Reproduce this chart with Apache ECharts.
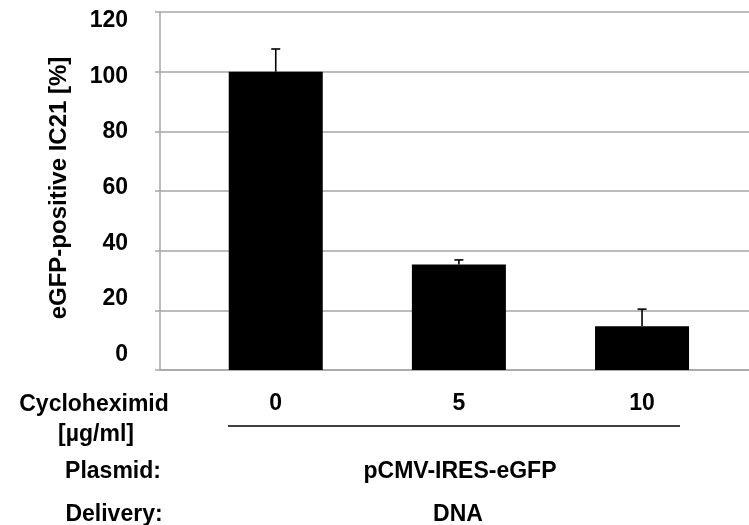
<!DOCTYPE html>
<html style="height: 100%">
<head>
<meta charset="UTF-8">
<title>eGFP IC21</title>
<script src="https://cdn.jsdelivr.net/npm/echarts@6.0.0/dist/echarts.min.js"></script>
</head>
<body style="height: 100%;margin: 0;background:#fff">
<div id="container" style="width:749px;height:525px"></div>
<script type="text/javascript">
// data
var doses = ['0', '5', '10'];
var positive = [100, 35.4, 14.7];
var errors = [7.6, 1.5, 5.7];
var yTicks = [0, 20, 40, 60, 80, 100, 120];
var rowLabels = ['Cycloheximid', '[µg/ml]', 'Plasmid:', 'Delivery:'];
var rowValues = ['pCMV-IRES-eGFP', 'DNA'];

var FONT = '"Liberation Sans", Arial, sans-serif';
var gridGray = '#a6a6a6';

var dom = document.getElementById("container");
var myChart = echarts.init(dom);

var barData = positive.map(function (v, i) { return [i, v]; });
var errData = positive.map(function (v, i) { return [i, v, errors[i]]; });

function textEl(str, x, y) {
    return {
        type: 'text',
        x: x,
        y: y,
        style: {
            text: str,
            fontFamily: FONT,
            fontSize: 23,
            fontWeight: 'bold',
            fill: '#000',
            align: 'center',
            verticalAlign: 'middle'
        }
    };
}

var labelStyle = {
    color: '#000',
    fontFamily: FONT,
    fontSize: 23,
    fontWeight: 'bold'
};

var option = {
    backgroundColor: '#fff',
    animation: false,
    grid: {
        left: 160,
        right: 0,
        top: 12,
        bottom: 155
    },
    xAxis: {
        type: 'value',
        min: -0.632,
        max: 2.584,
        splitLine: {show: false},
        axisTick: {show: false},
        axisLine: {show: true, onZero: false, lineStyle: {color: gridGray, width: 1.5}},
        axisLabel: Object.assign({
            customValues: [0, 1, 2],
            margin: 22,
            formatter: function (v) { return doses[Math.round(v)]; }
        }, labelStyle)
    },
    yAxis: [{
        type: 'value',
        min: 0,
        max: 120,
        interval: 20,
        name: 'eGFP-positive IC21 [%]',
        nameLocation: 'middle',
        nameRotate: 90,
        nameGap: 89,
        nameTextStyle: {
            color: '#000',
            fontFamily: FONT,
            fontSize: 24,
            fontWeight: 'bold',
            padding: [0, 0, 0, 6]
        },
        axisLine: {show: true, onZero: false, lineStyle: {color: gridGray, width: 1.5}},
        axisTick: {show: true, length: 5, lineStyle: {color: gridGray, width: 1.5}},
        splitLine: {lineStyle: {color: gridGray, width: 1.5}},
        axisLabel: {show: false}
    }, {
        // tick labels in the figure sit on a slightly tighter spacing than the grid lines
        type: 'value',
        position: 'left',
        min: -5.58,
        max: 123.2,
        axisLine: {show: false},
        axisTick: {show: false},
        splitLine: {show: false},
        axisLabel: Object.assign({
            customValues: yTicks,
            margin: 32,
            formatter: function (v) { return String(Math.round(v)); }
        }, labelStyle)
    }],
    series: [{
        type: 'bar',
        data: barData,
        barWidth: 94,
        itemStyle: {color: '#000'}
    }, {
        type: 'custom',
        data: errData,
        z: 3,
        renderItem: function (params, api) {
            var x = api.value(0);
            var y = api.value(1);
            var e = api.value(2);
            var base = api.coord([x, y]);
            var top = api.coord([x, y + e]);
            var st = {stroke: '#000', lineWidth: 1.6};
            return {
                type: 'group',
                children: [{
                    type: 'line',
                    shape: {x1: base[0], y1: base[1], x2: top[0], y2: top[1]},
                    style: st
                }, {
                    type: 'line',
                    shape: {x1: top[0] - 4.5, y1: top[1], x2: top[0] + 4.5, y2: top[1]},
                    style: st
                }]
            };
        }
    }],
    graphic: [
        textEl(rowLabels[0], 94, 405),
        textEl(rowLabels[1], 96, 435),
        textEl(rowLabels[2], 113, 472),
        textEl(rowLabels[3], 114, 515),
        textEl(rowValues[0], 460, 472),
        textEl(rowValues[1], 458, 515),
        {
            type: 'line',
            shape: {x1: 228, y1: 426, x2: 680, y2: 426},
            style: {stroke: '#000', lineWidth: 1.5}
        }
    ]
};

myChart.setOption(option);
</script>
</body>
</html>
